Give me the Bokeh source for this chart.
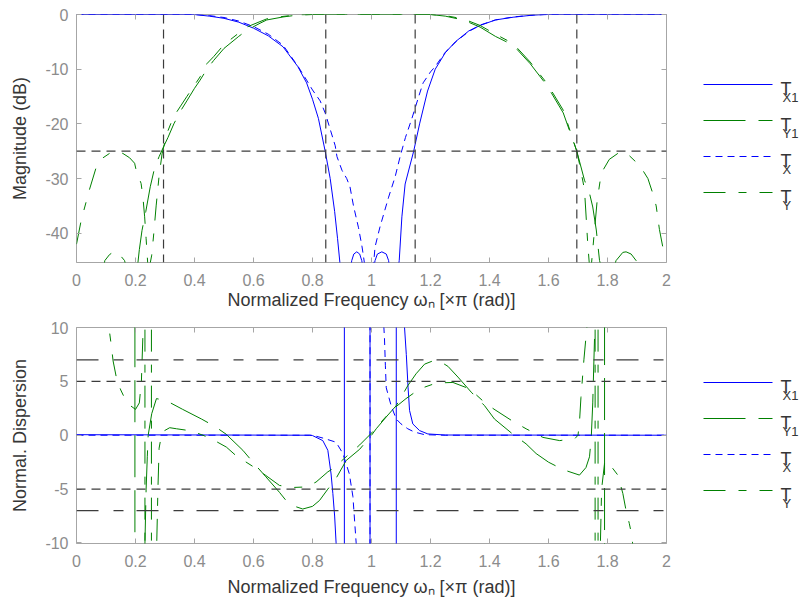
import numpy as np
from bokeh.plotting import figure
from bokeh.models import Range1d, LinearAxis, FixedTicker, Span
from bokeh.layouts import row, column
from bokeh.embed import file_html
from bokeh.resources import INLINE
from bokeh.core.properties import value

FONT = "Liberation Sans"

# ---------------- data ----------------
x_ticks = [0, 0.2, 0.4, 0.6, 0.8, 1, 1.2, 1.4, 1.6, 1.8, 2]
x_tick_labels = ["0", "0.2", "0.4", "0.6", "0.8", "1", "1.2", "1.4", "1.6", "1.8", "2"]
mag_ticks = [-40, -30, -20, -10, 0]
mag_tick_labels = ["-40", "-30", "-20", "-10", "0"]
disp_ticks = [-10, -5, 0, 5, 10]
disp_tick_labels = ["-10", "-5", "0", "5", "10"]

legend_main = ["T", "T", "T", "T"]
legend_sub = ["X1", "Y1", "X", "Y"]

mag_hlines = [-25]
mag_vlines = [0.295, 0.845, 1.148, 1.696]
disp_hlines_short = [5, -5]
disp_hlines_long = [7, -7]

NAN = float("nan")

# magnitude (dB)
tx1_mag = [(0.0, 0.0), (0.40, 0.0), (0.45, -0.3), (0.50, -0.7), (0.55, -1.4), (0.60, -2.5), (0.65, -3.9),
           (0.70, -5.9), (0.75, -9.5), (0.78, -12.5), (0.80, -15.5), (0.82, -19.0), (0.843, -25.0),
           (0.86, -30.0), (0.875, -36.0), (0.885, -41.0), (0.894, -46.0), (0.915, -52.0), (0.933, -45.0),
           (0.94, -43.8), (0.95, -43.4), (0.96, -43.8), (0.967, -45.0), (0.99, -52.0), (1.012, -45.0),
           (1.02, -43.8), (1.035, -43.4), (1.05, -43.8), (1.058, -45.0), (1.075, -52.0), (1.094, -45.0),
           (1.103, -37.0), (1.114, -31.0), (1.143, -25.0), (1.163, -20.0), (1.19, -14.0), (1.216, -10.0),
           (1.25, -7.0), (1.284, -5.0), (1.33, -3.0), (1.368, -2.0), (1.42, -1.0), (1.48, -0.5),
           (1.54, -0.15), (1.585, 0.0), (2.0, 0.0)]
ty1_mag = [(0.0, -60.0), (0.08, -50.0), (0.096, -45.0), (0.112, -43.9), (0.129, -43.3), (0.146, -43.9),
           (0.163, -45.0), (0.185, -50.0), (0.205, -47.0), (0.213, -43.0), (0.222, -39.5), (0.235, -36.0),
           (0.25, -31.5), (0.265, -28.0), (0.28, -26.0), (0.295, -24.2), (0.31, -22.5), (0.33, -20.0),
           (0.351, -17.8), (0.374, -15.8), (0.40, -13.5), (0.419, -12.0), (0.442, -10.0), (0.465, -8.4),
           (0.50, -6.2), (0.55, -4.0), (0.577, -2.9), (0.622, -1.6), (0.645, -1.0), (0.70, -0.45),
           (0.75, -0.1), (0.80, 0.0), (1.20, 0.0), (1.25, -0.3), (1.311, -1.0), (1.368, -2.3), (1.42, -4.0),
           (1.48, -5.6), (1.538, -9.0), (1.595, -13.0), (1.65, -18.0), (1.696, -25.0), (1.722, -30.3),
           (1.739, -32.7), (1.75, -35.2), (1.762, -39.4), (1.773, -45.0), (1.80, -50.0), (1.829, -45.0),
           (1.852, -43.5), (1.863, -43.4), (1.88, -43.8), (1.897, -45.0), (1.93, -52.0), (2.0, -60.0)]
tx_mag = [(0.0, 0.0), (0.40, 0.0), (0.45, -0.2), (0.50, -0.55), (0.55, -1.2), (0.60, -2.2), (0.65, -3.6),
          (0.70, -5.6), (0.75, -9.4), (0.78, -12.0), (0.80, -13.8), (0.826, -15.8), (0.843, -18.0),
          (0.86, -21.0), (0.877, -24.0), (0.883, -26.0), (0.90, -28.5), (0.916, -30.0), (0.927, -31.5),
          (0.939, -35.0), (0.956, -39.0), (0.968, -42.5), (0.973, -44.3), (0.98, -47.0), (0.995, -52.0),
          (1.005, -47.0), (1.012, -42.5), (1.029, -38.8), (1.058, -33.4), (1.08, -29.7), (1.097, -26.0),
          (1.115, -22.5), (1.137, -19.0), (1.16, -15.0), (1.175, -12.5), (1.20, -10.5), (1.216, -9.5),
          (1.25, -6.9), (1.29, -4.8), (1.33, -3.1), (1.37, -1.9), (1.42, -1.0), (1.48, -0.45),
          (1.55, -0.1), (1.60, 0.0), (2.0, 0.0)]
ty_mag = [(0.0, -42.0), (0.016, -37.6), (0.044, -32.0), (0.067, -27.9), (0.09, -26.2), (0.112, -25.4),
          (0.129, -25.1), (0.157, -25.4), (0.18, -26.2), (0.197, -27.2), (0.202, -28.4), (0.219, -30.9),
          (0.225, -33.3), (0.231, -37.0), (0.236, -41.0), (0.242, -46.0), (0.248, -46.0), (0.255, -44.0),
          (0.262, -40.0), (0.27, -35.0), (0.28, -29.5), (0.29, -25.5), (0.306, -21.8), (0.329, -18.7),
          (0.351, -16.9), (0.374, -15.0), (0.419, -11.4), (0.442, -9.0), (0.465, -7.7), (0.50, -5.5),
          (0.55, -3.4), (0.577, -2.3), (0.622, -1.3), (0.645, -0.8), (0.70, -0.35), (0.75, -0.05),
          (0.80, 0.0), (1.20, 0.0), (1.25, -0.2), (1.311, -0.8), (1.368, -2.0), (1.42, -3.6), (1.48, -5.3),
          (1.538, -8.7), (1.595, -12.6), (1.65, -17.5), (1.696, -25.0), (1.705, -27.3), (1.722, -32.0),
          (1.733, -41.9), (1.739, -46.0), (1.745, -46.0), (1.755, -40.0), (1.765, -34.0), (1.779, -29.0),
          (1.806, -26.5), (1.835, -25.4), (1.862, -25.2), (1.897, -27.0), (1.914, -28.0), (1.937, -30.0),
          (1.954, -32.8), (1.965, -35.0), (1.976, -39.3), (1.987, -42.4), (2.0, -44.0)]

# normalised dispersion
tx1_disp = [(0.0, 0.05), (0.79, 0.0), (0.80, -0.03), (0.835, -0.5), (0.852, -1.4), (0.863, -3.6),
            (0.869, -5.4), (0.875, -7.5), (0.88, -10.0), (0.895, -20.0), (0.908, -40.0), (0.908, 40.0),
            (0.95, 20.0), (0.995, 40.0), (0.995, -40.0), (1.04, -20.0), (1.084, -40.0), (1.084, 40.0),
            (1.10, 16.0), (1.112, 10.0), (1.118, 7.5), (1.124, 4.4), (1.129, 2.3), (1.14, 1.05),
            (1.163, 0.43), (1.191, 0.12), (1.25, 0.02), (2.0, 0.0)]
ty1_disp = [(0.0, 15.0), (0.198, 15.0), (0.198, -15.0), (0.228, -15.0), (0.232, -10.0), (0.236, -5.0),
            (0.24, -2.0), (0.243, 0.0), (0.255, 2.0), (0.271, 3.4), (0.305, 3.2), (0.36, 2.4), (0.424, 1.5),
            (0.47, 0.8), (0.507, 0.1), (0.564, -1.4), (0.598, -2.5), (0.64, -3.8), (0.688, -5.3),
            (0.71, -6.05), (0.74, -6.6), (0.767, -6.85), (0.80, -6.6), (0.824, -6.05), (0.852, -5.0),
            (0.88, -4.0), (0.914, -2.35), (0.96, -1.3), (1.0, 0.0), (1.016, 0.6), (1.05, 1.7), (1.084, 2.75),
            (1.123, 4.6), (1.151, 5.7), (1.18, 6.6), (1.208, 6.9), (1.235, 6.8), (1.259, 6.4), (1.293, 5.4),
            (1.338, 4.0), (1.383, 2.75), (1.417, 1.5), (1.479, 0.1), (1.524, -0.8), (1.558, -1.7),
            (1.60, -2.5), (1.65, -3.2), (1.705, -3.7), (1.727, -3.0), (1.739, -2.0), (1.745, -0.2),
            (1.75, 3.0), (1.755, 8.0), (1.762, 15.0), (1.79, 15.0), (1.79, -15.0), (2.0, -15.0)]
tx_disp = [(0.0, 0.0), (0.80, 0.0), (0.84, -0.3), (0.88, -0.65), (0.903, -1.7), (0.925, -3.6),
           (0.937, -5.7), (0.948, -10.0), (0.96, -16.0), (0.995, -40.0), (0.995, 40.0), (1.03, 16.0),
           (1.04, 11.0), (1.044, 9.0), (1.047, 6.5), (1.05, 4.4), (1.067, 2.7), (1.084, 1.5), (1.10, 1.05),
           (1.123, 0.6), (1.145, 0.3), (1.18, 0.05), (1.25, 0.0), (2.0, 0.0)]
ty_disp = [(0.0, 15.0), (0.105, 15.0), (0.11, 10.0), (0.119, 8.1), (0.124, 6.9), (0.137, 5.1), (0.15, 4.2),
           (0.164, 3.4), (0.18, 2.8), (0.20, 2.4), (0.213, 3.0), (0.22, 5.0), (0.226, 10.0), (0.23, 15.0),
           (NAN, NAN), (0.232, 15.0), (0.232, -15.0), (NAN, NAN), (0.254, 15.0), (0.254, -15.0), (NAN, NAN),
           (0.268, -15.0), (0.272, -10.0), (0.276, -5.0), (0.28, -1.2), (0.29, 0.3), (0.316, 0.7),
           (0.339, 0.6), (0.39, 0.4), (0.452, -0.25), (0.508, -1.1), (0.541, -1.9), (0.598, -2.9),
           (0.64, -3.7), (0.688, -4.66), (0.733, -4.85), (0.778, -4.8), (0.812, -4.35), (0.852, -3.4),
           (0.869, -3.1), (0.914, -2.0), (0.96, -0.9), (1.0, 0.2), (1.016, 0.74), (1.072, 2.4),
           (1.117, 3.4), (1.163, 4.3), (1.22, 4.85), (1.276, 4.9), (1.333, 4.3), (1.389, 2.9), (1.422, 2.3),
           (1.473, 1.4), (1.524, 0.6), (1.581, -0.2), (1.638, -0.5), (1.69, -0.3), (1.70, 0.0),
           (1.705, 1.2), (1.71, 3.5), (1.72, 7.0), (1.73, 10.0), (1.735, 15.0), (NAN, NAN),
           (1.758, 15.0), (1.758, -15.0), (NAN, NAN), (1.768, 15.0), (1.768, -15.0), (NAN, NAN),
           (1.772, -15.0), (1.78, -5.0), (1.79, -2.6), (1.80, -2.35), (1.81, -2.8), (1.835, -3.7),
           (1.852, -5.4), (1.863, -7.0), (1.874, -8.2), (1.88, -9.0), (1.885, -10.0), (1.89, -15.0),
           (2.0, -15.0)]

# ---------------- styles / layout ----------------
STYLE = {
    "X1": dict(line_color="#0000ff", line_dash="solid"),
    "Y1": dict(line_color="#008000", line_dash="42 13"),
    "X": dict(line_color="#0000ff", line_dash="7 5"),
    "Y": dict(line_color="#008000", line_dash="22 13 8 13"),
}
FRAME = "#a6a6a6"
TICKC = "#8c8c8c"
LABELC = "#363636"
REFC = "#3c3c3c"

MAIN_W = 688
LEG_W = 805 - MAIN_W
TOP_H = 314
BOT_H = 604 - TOP_H
XLABEL = "Normalized Frequency ωₙ [×π (rad)]"


def xy(pairs):
    a = np.array(pairs, dtype=float)
    return a[:, 0], a[:, 1]


def style_axis(ax, ticks, labels):
    ax.ticker = FixedTicker(ticks=ticks, minor_ticks=[])
    ax.major_label_overrides = dict(zip(ticks, labels))
    ax.major_tick_in = 5
    ax.major_tick_out = 0
    ax.major_tick_line_color = FRAME
    ax.minor_tick_line_color = None
    ax.axis_line_color = None
    ax.major_label_text_font = FONT
    ax.major_label_text_font_size = "16px"
    ax.major_label_text_color = TICKC
    ax.axis_label_text_font = FONT
    ax.axis_label_text_font_size = "18px"
    ax.axis_label_text_font_style = "normal"
    ax.axis_label_text_color = LABELC


def mirror_axis(ticks, loc, p):
    ax = LinearAxis(ticker=FixedTicker(ticks=ticks, minor_ticks=[]),
                    major_label_overrides={t: "" for t in ticks},
                    major_label_text_font_size="0px", major_label_standoff=0,
                    major_tick_in=5, major_tick_out=0, major_tick_line_color=FRAME,
                    minor_tick_line_color=None, axis_line_color=None)
    p.add_layout(ax, loc)


def make_main(height, yr, yticks, ylabels, ylabel, btop, bbot, xlab_standoff):
    p = figure(width=MAIN_W, height=height, x_range=Range1d(0, 2), y_range=Range1d(*yr),
               output_backend="svg", toolbar_location=None,
               min_border_left=76, min_border_right=22, min_border_top=btop, min_border_bottom=bbot,
               background_fill_color="white", border_fill_color="white")
    p.xgrid.visible = False
    p.ygrid.visible = False
    p.outline_line_color = FRAME
    p.outline_line_width = 1
    style_axis(p.xaxis[0], x_ticks, x_tick_labels)
    style_axis(p.yaxis[0], yticks, ylabels)
    p.xaxis[0].axis_label = XLABEL
    p.xaxis[0].major_label_standoff = 11
    p.xaxis[0].axis_label_standoff = xlab_standoff
    p.yaxis[0].axis_label = ylabel
    p.yaxis[0].major_label_standoff = 8
    p.yaxis[0].axis_label_standoff = 12
    mirror_axis(x_ticks, "above", p)
    mirror_axis(yticks, "right", p)
    return p


def add_series(p, data):
    for key, pairs in data:
        xs, ys = xy(pairs)
        p.line(xs, ys, line_width=1, **STYLE[key])


top = make_main(TOP_H, (-45.35, 0), mag_ticks, mag_tick_labels, "Magnitude (dB)", 14, 52, 1)
add_series(top, [("X1", tx1_mag), ("Y1", ty1_mag), ("X", tx_mag), ("Y", ty_mag)])
for v in mag_vlines:
    top.add_layout(Span(location=v, dimension="height", line_color=REFC, line_dash="9 6", line_width=1.2))
for h in mag_hlines:
    top.add_layout(Span(location=h, dimension="width", line_color=REFC, line_dash="9 6", line_width=1.2))

bot = make_main(BOT_H, (-10.05, 10), disp_ticks, disp_tick_labels, "Normal. Dispersion", 13, 61, 7)
add_series(bot, [("X1", tx1_disp), ("Y1", ty1_disp), ("X", tx_disp), ("Y", ty_disp)])
for h in disp_hlines_short:
    bot.add_layout(Span(location=h, dimension="width", line_color=REFC, line_dash="9 6", line_width=1.2))
for h in disp_hlines_long:
    bot.add_layout(Span(location=h, dimension="width", line_color=REFC, line_dash="22 15 10 13", line_width=1.2))

LEG_DY = 36
LEG_X0, LEG_X1 = 15, 84
LEG_TX, LEG_SX = 92, 94


def make_legend(height, y0):
    p = figure(width=LEG_W, height=height, x_range=Range1d(0, LEG_W), y_range=Range1d(height, 0),
               output_backend="svg", toolbar_location=None, min_border=0,
               x_axis_location=None, y_axis_location=None)
    p.grid.visible = False
    p.outline_line_color = None
    ys = [y0 + i * LEG_DY for i in range(len(legend_sub))]
    for key, y in zip(legend_sub, ys):
        p.line([LEG_X0, LEG_X1], [y, y], line_width=1, **STYLE[key])
    p.text(x=[LEG_TX] * len(ys), y=[y + 4 for y in ys], text=legend_main,
           text_font=value(FONT), text_font_size="18px", text_color=LABELC,
           text_baseline="alphabetic", text_align="left")
    p.text(x=[LEG_SX] * len(ys), y=[y + 13 for y in ys], text=legend_sub,
           text_font=value(FONT), text_font_size="13px", text_color=LABELC,
           text_baseline="alphabetic", text_align="left")
    return p


leg_top = make_legend(TOP_H, 84)
leg_bot = make_legend(BOT_H, 382 - TOP_H)

layout = row(column(top, bot), column(leg_top, leg_bot))
open("out.html", "w").write(file_html(layout, INLINE))
